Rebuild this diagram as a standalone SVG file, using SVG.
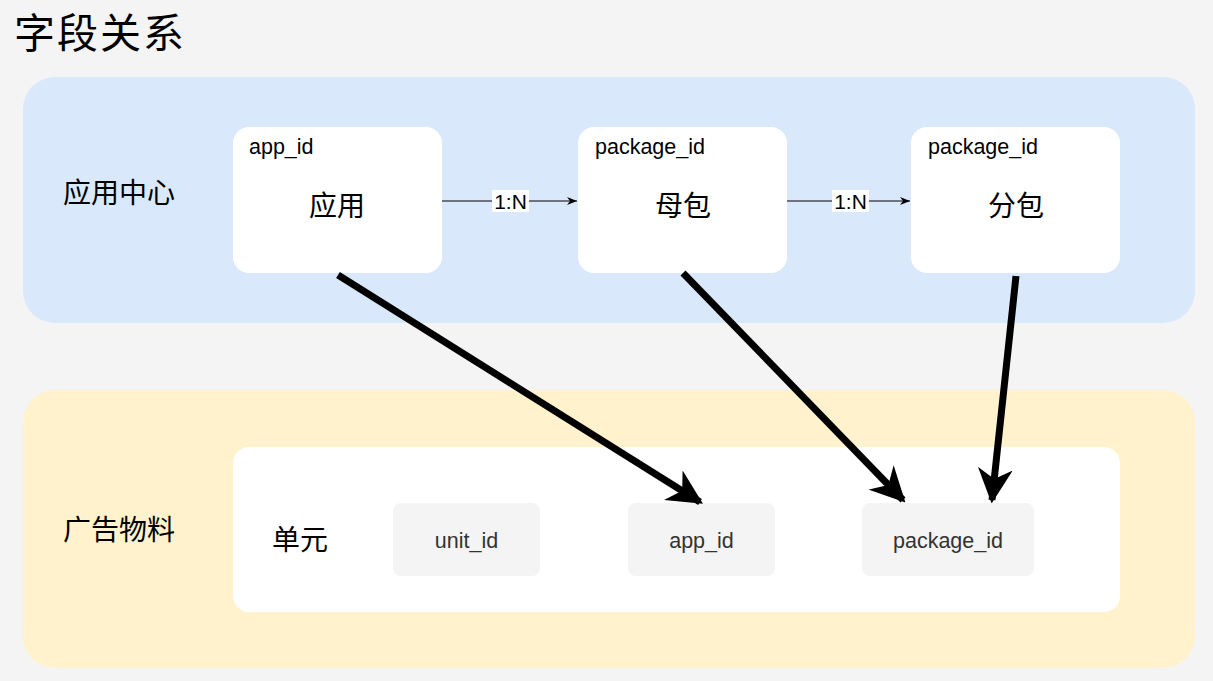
<svg xmlns="http://www.w3.org/2000/svg" width="1213" height="681" viewBox="0 0 1213 681">
<defs>
<style>
text{font-family:"Liberation Sans","Noto Sans CJK SC",sans-serif;fill:#000}
.cn{font-family:"Noto Sans CJK SC",sans-serif}
.node{fill:#fff}
.field{fill:#f4f4f4}
.small{font-size:21.5px}
.mid{font-size:28px}
.ft{font-size:21.5px;fill:#333}
.thin{stroke:#000;stroke-width:1;fill:none}
.thick{stroke:#000;stroke-width:7;fill:none}
</style>
<marker id="ah" viewBox="0 0 10 10" refX="10" refY="5" markerWidth="10" markerHeight="10" markerUnits="userSpaceOnUse" orient="auto"><path d="M0,1 L10,5 L0,9 L3,5 Z" fill="#000"/></marker>
<marker id="ahb" viewBox="0 0 10 10" refX="9" refY="5" markerWidth="5" markerHeight="5" orient="auto"><path d="M0,0 L10,5 L0,10 L3,5 Z" fill="#000"/></marker>
</defs>
<rect width="1213" height="681" fill="#f4f4f4"/>
<text x="14" y="48" class="cn" font-size="41" letter-spacing="2">字段关系</text>
<g id="app-center">
<rect x="23" y="77" width="1172" height="246" rx="32" fill="#dae8fc"/>
<text x="63" y="203" class="cn mid">应用中心</text>
</g>
<g id="ad-material">
<rect x="23" y="390" width="1172" height="278" rx="32" fill="#fff2cc"/>
<text x="63" y="540" class="cn mid">广告物料</text>
</g>
<g id="node-app">
<rect x="233" y="127" width="209" height="146" rx="16" class="node"/>
<text x="249" y="154" class="small">app_id</text>
<text x="337" y="216" class="cn mid" text-anchor="middle">应用</text>
</g>
<g id="node-parent">
<rect x="578" y="127" width="209" height="146" rx="16" class="node"/>
<text x="595" y="154" class="small">package_id</text>
<text x="683" y="216" class="cn mid" text-anchor="middle">母包</text>
</g>
<g id="node-sub">
<rect x="911" y="127" width="209" height="146" rx="16" class="node"/>
<text x="928" y="154" class="small">package_id</text>
<text x="1016" y="216" class="cn mid" text-anchor="middle">分包</text>
</g>
<g id="node-unit">
<rect x="233" y="447" width="887" height="165" rx="16" class="node"/>
<text x="272" y="550" class="cn mid">单元</text>
</g>
<g id="field-unit">
<rect x="393" y="503" width="147" height="73" rx="8" class="field"/>
<text x="466.5" y="548" class="ft" text-anchor="middle">unit_id</text>
</g>
<g id="field-app">
<rect x="628" y="503" width="147" height="73" rx="8" class="field"/>
<text x="701.5" y="548" class="ft" text-anchor="middle">app_id</text>
</g>
<g id="field-package">
<rect x="862" y="503" width="172" height="73" rx="8" class="field"/>
<text x="948" y="548" class="ft" text-anchor="middle">package_id</text>
</g>
<g id="connectors">
<line x1="442" y1="201" x2="577" y2="201" class="thin" marker-end="url(#ah)"/>
<rect x="492" y="190" width="37" height="22" fill="#fff"/>
<text x="510.5" y="209" font-size="21" text-anchor="middle">1:N</text>
<line x1="787" y1="201" x2="910" y2="201" class="thin" marker-end="url(#ah)"/>
<rect x="832" y="190" width="37" height="22" fill="#fff"/>
<text x="850.5" y="209" font-size="21" text-anchor="middle">1:N</text>
<line x1="338" y1="275" x2="700" y2="502" class="thick" marker-end="url(#ahb)"/>
<line x1="683" y1="273" x2="903" y2="500" class="thick" marker-end="url(#ahb)"/>
<line x1="1016" y1="276" x2="992" y2="500" class="thick" marker-end="url(#ahb)"/>
</g>
</svg>
